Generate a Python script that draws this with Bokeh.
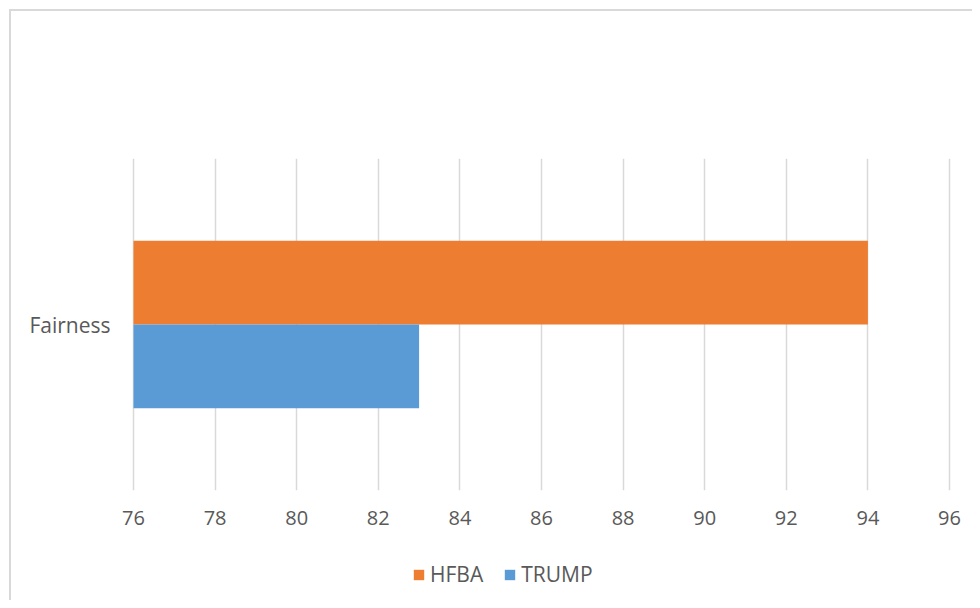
from bokeh.plotting import figure
from bokeh.layouts import column
from bokeh.models import Range1d, FactorRange, Legend, LegendItem, FixedTicker, ColumnDataSource
from bokeh.transform import dodge
from bokeh.embed import file_html
from bokeh.resources import INLINE

# ---- data ----
categories = ["Fairness"]
series = ["HFBA", "TRUMP"]
hfba_values = [94]
trump_values = [83]
tick_values = [76, 78, 80, 82, 84, 86, 88, 90, 92, 94, 96]
x_min, x_max = 76, 96
colors = ["#ED7D31", "#5B9BD5"]

FONT = "Open Sans"
TEXT_COLOR = "#595959"

TOTAL_W, TOP_H, LEG_H = 972, 545, 55
PAD = 0.049  # tiny range padding so the edge gridlines (76, 96) stay visible

src = ColumnDataSource(dict(cat=categories, HFBA=hfba_values, TRUMP=trump_values))

p = figure(width=TOTAL_W, height=TOP_H,
           y_range=FactorRange(factors=categories),
           x_range=Range1d(x_min - PAD, x_max + PAD),
           output_backend="svg", toolbar_location=None,
           min_border_left=131, min_border_right=21,
           min_border_top=158, min_border_bottom=55)
p.outline_line_color = None
p.background_fill_color = "white"
p.border_fill_alpha = 0

r1 = p.hbar(y=dodge("cat", 0.126, range=p.y_range), left=x_min, right="HFBA",
            height=0.252, source=src, fill_color=colors[0], line_color=None)
r2 = p.hbar(y=dodge("cat", -0.126, range=p.y_range), left=x_min, right="TRUMP",
            height=0.252, source=src, fill_color=colors[1], line_color=None)

p.xaxis.ticker = FixedTicker(ticks=tick_values)
p.xgrid.ticker = FixedTicker(ticks=tick_values)
p.xgrid.grid_line_color = "#d9d9d9"
p.xgrid.grid_line_width = 1.5
p.ygrid.grid_line_color = None

for ax in (p.xaxis, p.yaxis):
    ax.axis_line_color = None
    ax.major_tick_line_color = None
    ax.minor_tick_line_color = None
    ax.major_tick_out = 0
    ax.minor_tick_out = 0
    ax.major_label_text_font = FONT
    ax.major_label_text_color = TEXT_COLOR
p.xaxis.major_label_text_font_size = "20px"
p.yaxis.major_label_text_font_size = "21px"
p.xaxis.major_label_standoff = 20
p.yaxis.major_label_standoff = 21

# ---- legend strip (separate plot so the legend is not clipped) ----
# its frame is aligned with the main plot's frame by the column layout
q = figure(width=TOTAL_W, height=LEG_H,
           x_range=p.x_range, y_range=FactorRange(factors=categories),
           x_axis_type=None, y_axis_type=None,
           output_backend="svg", toolbar_location=None,
           min_border_left=0, min_border_right=0, min_border_top=0, min_border_bottom=0)
q.outline_line_color = None
q.background_fill_alpha = 0
q.border_fill_alpha = 0
q.grid.visible = False
# zero-height bars: nothing visible, they only feed the legend swatches
l1 = q.hbar(y="cat", left=x_min, right="HFBA", height=0, source=src,
            fill_color=colors[0], line_color=None)
l2 = q.hbar(y="cat", left=x_min, right="TRUMP", height=0, source=src,
            fill_color=colors[1], line_color=None)

legend = Legend(items=[LegendItem(label=series[0], renderers=[l1]),
                       LegendItem(label=series[1], renderers=[l2])],
                orientation="horizontal", location=(281, 12),
                padding=0, margin=0, spacing=20,
                glyph_width=13, glyph_height=13, label_height=13,
                label_standoff=5,
                label_text_font=FONT, label_text_font_size="21px",
                label_text_color=TEXT_COLOR,
                border_line_color=None, background_fill_alpha=0)
q.add_layout(legend, "center")

layout = column(p, q, spacing=0)
layout.styles = {
    "background": ("linear-gradient(#d9d9d9,#d9d9d9) 9px 9px / 100% 2px no-repeat, "
                   "linear-gradient(#d9d9d9,#d9d9d9) 9px 9px / 2px 100% no-repeat, white"),
}

open("out.html", "w").write(file_html(layout, INLINE))
